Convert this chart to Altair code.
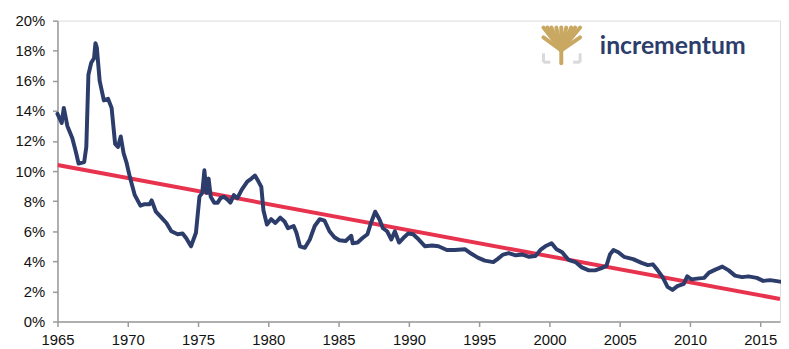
import altair as alt
import pandas as pd

years = [1965.0, 1965.3, 1965.45, 1965.7, 1966.05, 1966.3, 1966.5, 1966.9, 1967.05, 1967.2,
         1967.4, 1967.6, 1967.7, 1967.8, 1968.0, 1968.3, 1968.6, 1968.85, 1969.1, 1969.3,
         1969.5, 1969.7, 1969.9, 1970.15, 1970.5, 1970.9, 1971.2, 1971.55, 1971.7, 1972.0,
         1972.4, 1972.75, 1973.1, 1973.55, 1973.9, 1974.15, 1974.5, 1974.85, 1975.1, 1975.3,
         1975.45, 1975.6, 1975.75, 1975.9, 1976.15, 1976.4, 1976.6, 1976.85, 1977.1, 1977.3,
         1977.55, 1977.8, 1978.1, 1978.5, 1978.8, 1979.05, 1979.3, 1979.5, 1979.65, 1979.9,
         1980.2, 1980.5, 1980.85, 1981.15, 1981.4, 1981.8, 1982.0, 1982.25, 1982.6, 1982.95,
         1983.3, 1983.65, 1984.0, 1984.35, 1984.7, 1985.05, 1985.5, 1985.9, 1986.0, 1986.35,
         1986.7, 1987.05, 1987.3, 1987.6, 1987.9, 1988.15, 1988.45, 1988.75, 1989.0, 1989.3,
         1989.6, 1989.95, 1990.3, 1990.7, 1991.15, 1991.65, 1992.1, 1992.7, 1993.25, 1994.0,
         1994.45, 1994.9, 1995.4, 1996.0, 1996.3, 1996.7, 1997.1, 1997.6, 1998.1, 1998.55,
         1999.0, 1999.4, 1999.7, 2000.15, 2000.5, 2000.9, 2001.35, 2001.85, 2002.3, 2002.8,
         2003.25, 2003.7, 2004.05, 2004.3, 2004.55, 2004.9, 2005.3, 2005.95, 2006.55, 2007.0,
         2007.35, 2007.7, 2008.05, 2008.4, 2008.75, 2009.1, 2009.55, 2009.8, 2010.1, 2010.5,
         2011.0, 2011.35, 2011.8, 2012.3, 2012.75, 2013.2, 2013.7, 2014.15, 2014.75, 2015.2,
         2015.7, 2016.4]
rates = [13.8, 13.2, 14.2, 13.0, 12.2, 11.3, 10.5, 10.6, 11.6, 16.4,
         17.2, 17.5, 18.5, 18.2, 16.0, 14.7, 14.8, 14.2, 11.8, 11.6,
         12.3, 11.2, 10.6, 9.6, 8.4, 7.7, 7.8, 7.8, 8.05, 7.3,
         6.9, 6.55, 6.0, 5.8, 5.85, 5.55, 5.0, 5.9, 8.3, 8.55,
         10.05, 8.55, 9.5, 8.3, 7.9, 7.9, 8.2, 8.3, 8.1, 7.9,
         8.4, 8.2, 8.75, 9.3, 9.5, 9.7, 9.3, 8.95, 7.4, 6.45,
         6.8, 6.55, 6.9, 6.65, 6.2, 6.35, 5.9, 5.0, 4.9, 5.45,
         6.35, 6.8, 6.7, 6.0, 5.6, 5.4, 5.35, 5.7, 5.2, 5.25,
         5.55, 5.8, 6.55, 7.3, 6.8, 6.2, 6.0, 5.45, 6.0, 5.25,
         5.55, 5.85, 5.8, 5.45, 5.0, 5.05, 5.0, 4.75, 4.75, 4.8,
         4.5, 4.25, 4.05, 3.95, 4.15, 4.45, 4.55, 4.4, 4.45, 4.3,
         4.35, 4.8, 5.0, 5.2, 4.8, 4.6, 4.1, 3.95, 3.6, 3.4,
         3.4, 3.55, 3.7, 4.45, 4.75, 4.6, 4.3, 4.15, 3.9, 3.75,
         3.8, 3.4, 2.95, 2.3, 2.1, 2.35, 2.5, 3.0, 2.8, 2.85,
         2.9, 3.25, 3.45, 3.65, 3.4, 3.05, 2.95, 3.0, 2.9, 2.7,
         2.75, 2.65]

trend_years = [1965.0, 2016.4]
trend_rates = [10.4, 1.5]

x_ticks = [1965, 1970, 1975, 1980, 1985, 1990, 1995, 2000, 2005, 2010, 2015]
y_ticks = [0, 0.02, 0.04, 0.06, 0.08, 0.10, 0.12, 0.14, 0.16, 0.18, 0.20]

NAVY = "#2C3D6B"
RED = "#E8334F"
GOLD = "#C9A862"

series = pd.DataFrame({"year": years, "rate": [r / 100 for r in rates]})
trend = pd.DataFrame({"year": trend_years, "rate": [r / 100 for r in trend_rates]})

x_enc = alt.X("year:Q",
              scale=alt.Scale(domain=[1965, 2016.4], nice=False, zero=False),
              axis=alt.Axis(values=x_ticks, format="d", title=None, grid=False,
                            labelFontSize=15, labelFont="Liberation Sans", labelColor="#111",
                            domainColor="#9a9a9a", tickColor="#9a9a9a", tickSize=5,
                            domainWidth=1.5, tickWidth=1.5, labelPadding=6,
                            labelFlush=False, labelOverlap=False))
y_enc = alt.Y("rate:Q",
              scale=alt.Scale(domain=[0, 0.2], nice=False),
              axis=alt.Axis(values=y_ticks, format=".0%", title=None, grid=False,
                            labelFontSize=15, labelFont="Liberation Sans", labelColor="#111",
                            domainColor="#9a9a9a", tickColor="#9a9a9a", tickSize=5,
                            domainWidth=1.5, tickWidth=1.5, labelPadding=8,
                            labelFlush=False, labelOverlap=False))

line = alt.Chart(series).mark_line(color=NAVY, strokeWidth=4, strokeJoin="round",
                                   strokeCap="round").encode(x=x_enc, y=y_enc)
trend_line = alt.Chart(trend).mark_line(color=RED, strokeWidth=4, clip=True).encode(
    x=x_enc, y=y_enc)
data_layer = alt.layer(trend_line, line)

# logo decoration (pixel positions inside plot area)
ox, oy = 58, 19
tree = pd.DataFrame({
    "x": [567, 567, 567, 567, 567, 567, 567, 567, 567, 567, 567, 567],
    "y": [62, 49, 49, 49, 49, 49, 49, 49, 49, 49, 49, 49],
    "x2": [567, 549, 553, 557, 562, 567, 572, 577, 581, 586, 586, 549],
    "y2": [44, 26, 26, 26, 26, 26, 26, 26, 26, 26, 36, 36],
})
for c in ["x", "x2"]:
    tree[c] = tree[c] - ox
for c in ["y", "y2"]:
    tree[c] = tree[c] - oy
tree_layer = alt.Chart(tree).mark_rule(color=GOLD, strokeWidth=4, strokeCap="round").encode(
    x=alt.X("x:Q", scale=None, axis=None), y=alt.Y("y:Q", scale=None, axis=None),
    x2="x2:Q", y2="y2:Q")
brackets = pd.DataFrame({
    "x": [549, 549, 586, 579],
    "y": [52, 61, 52, 61],
    "x2": [549, 556, 586, 586],
    "y2": [61, 61, 61, 61],
})
for c in ["x", "x2"]:
    brackets[c] = brackets[c] - ox
for c in ["y", "y2"]:
    brackets[c] = brackets[c] - oy
bracket_layer = alt.Chart(brackets).mark_rule(color="#D9D9D9", strokeWidth=3).encode(
    x=alt.X("x:Q", scale=None, axis=None), y=alt.Y("y:Q", scale=None, axis=None),
    x2="x2:Q", y2="y2:Q")
logo_text = alt.Chart(pd.DataFrame({"t": ["incrementum"]})).mark_text(
    align="left", baseline="alphabetic", fontSize=25, font="Lato", fontWeight="bold",
    color=NAVY).encode(x=alt.value(606 - ox), y=alt.value(53 - oy), text="t:N")
logo_layer = alt.layer(tree_layer, bracket_layer, logo_text)

chart = alt.layer(data_layer, logo_layer).resolve_scale(
    x="independent", y="independent"
).properties(
    width=730, height=304,
    autosize=alt.AutoSizeParams(type="none"),
    padding={"left": 50, "top": 11, "right": 1, "bottom": 26},
).configure_view(stroke=None).configure(background="white")

chart.save("out.html", embed_options={"renderer": "svg", "actions": False})
